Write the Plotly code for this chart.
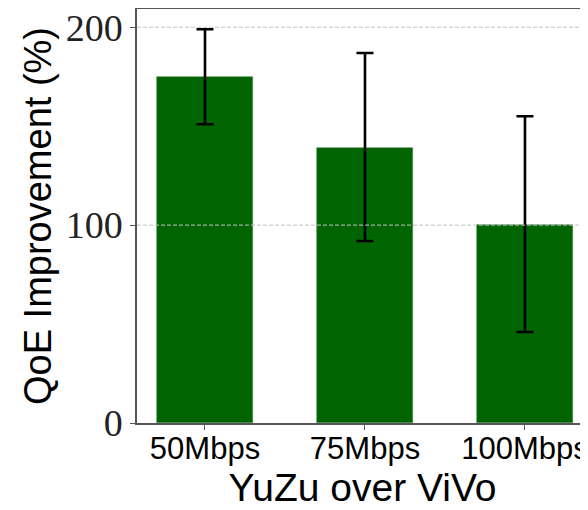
import plotly.graph_objects as go

categories = ["50Mbps", "75Mbps", "100Mbps"]
improvement = [175, 139, 100]
err_plus = [24, 48, 55]
err_minus = [24, 47, 54]
y_ticks = [0, 100, 200]
y_tick_labels = ["0", "100", "200"]
grid_values = [100, 200]

fig = go.Figure()
fig.add_trace(go.Bar(
    x=list(range(len(categories))),
    y=improvement,
    width=0.6,
    marker=dict(color="#006400", line=dict(color="#4d8a4d", width=0.6)),
    error_y=dict(type="data", symmetric=False, array=err_plus, arrayminus=err_minus,
                 color="black", thickness=2.6, width=8.5),
    showlegend=False,
))

for g in grid_values:
    fig.add_shape(type="line", xref="paper", x0=0, x1=1, yref="y", y0=g, y1=g,
                  line=dict(color="#c4c4c4", width=1, dash="4px,2px"), layer="above")

# page body has an 8px margin, so the figure is sized to fill the rest of the window
fig.update_layout(
    width=580, height=502,
    margin=dict(l=129, r=0, t=1, b=87),
    plot_bgcolor="white", paper_bgcolor="white",
    bargap=0,
)
fig.update_xaxes(
    range=[-0.425, 2.394],
    automargin=False, ticklabeloverflow="allow",
    tickvals=list(range(len(categories))), ticktext=categories,
    tickfont=dict(family="Liberation Sans", size=31, color="black"),
    ticks="outside", ticklen=5, tickwidth=1.2, tickcolor="#555",
    ticklabelstandoff=-8,
    showline=True, linecolor="#555", linewidth=1.5, mirror=True,
    showgrid=False, zeroline=False,
    title=dict(text="YuZu over ViVo", font=dict(family="Liberation Sans", size=39, color="black"), standoff=9),
)
fig.update_yaxes(
    range=[0, 209.2],
    automargin=False, ticklabeloverflow="allow",
    tickvals=y_ticks, ticktext=y_tick_labels,
    tickfont=dict(family="Liberation Serif", size=38, color="#222"),
    ticks="outside", ticklen=5, tickwidth=1.2, tickcolor="#555",
    showline=True, linecolor="#555", linewidth=1.5, mirror=False,
    showgrid=False, zeroline=False,
    title=dict(text="QoE Improvement (%)", font=dict(family="Liberation Sans", size=38, color="black"), standoff=2),
)

fig.write_html("out.html")
